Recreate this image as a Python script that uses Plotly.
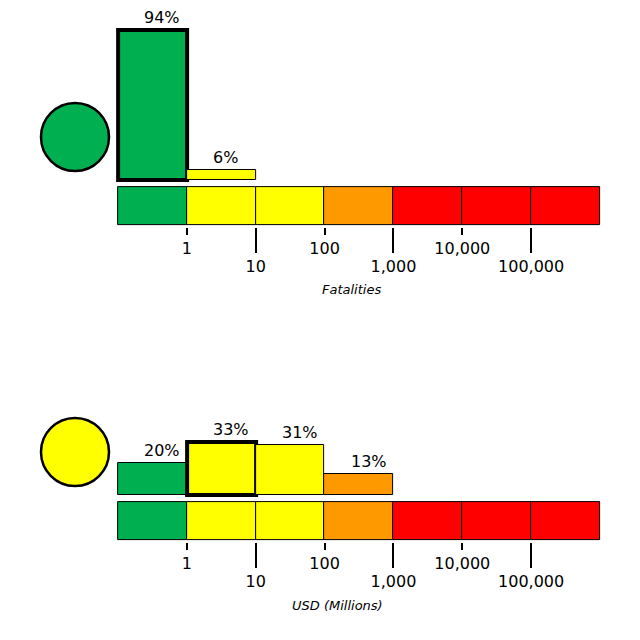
import plotly.graph_objects as go

# 7 bins on a log scale: <1, 1-10, 10-100, 100-1k, 1k-10k, 10k-100k, >100k
bin_colors = ['#00B050', '#FFFF00', '#FFFF00', '#FF9900', '#FF0000', '#FF0000', '#FF0000']
ticks_upper = [1, 3, 5]
ticks_upper_text = ['1', '100', '10,000']
ticks_lower = [2, 4, 6]
ticks_lower_text = ['10', '1,000', '100,000']

fatal_pct = [94, 6, 0, 0, 0, 0, 0]
fatal_pick = 0
fatal_alert = '#00B050'

econ_pct = [20, 33, 31, 13, 0, 0, 0]
econ_pick = 1
econ_alert = '#FFFF00'

OFF = 8  # page body margin
W = H = 640 - OFF
FONT = 'DejaVu Sans'

BIN = (600 - 118) / 7  # px per bin
PCT = 1.6  # px per percent
PADX = 0.1
PADP = 3
PADS = 0.05
STRIP = 38


def px_(v):
    return (v - OFF) / W


def py(v):
    # window pixel row -> paper y
    return 1 - (v - OFF) / H


fig = go.Figure()


def add_panel(pct, pick, alert, title, title_x, top, xa, xb, ya, yb):
    # top = pixel row of histogram baseline
    idx = [i for i, v in enumerate(pct) if v > 0]
    xs = [i + 0.5 for i in idx]
    vs = [pct[i] for i in idx]
    cols = [bin_colors[i] for i in idx]
    lw = [4 if i == pick else 1 for i in idx]
    fig.add_trace(go.Bar(x=xs, y=vs, width=1, marker=dict(color=cols, line=dict(color='black', width=lw)),
                         xaxis=xa, yaxis=ya, showlegend=False, hoverinfo='skip', cliponaxis=False))
    fig.add_trace(go.Bar(x=[i + 0.5 for i in range(7)], y=[1] * 7, width=1,
                         marker=dict(color=bin_colors, line=dict(color='black', width=1)),
                         xaxis=xb, yaxis=yb, showlegend=False, hoverinfo='skip', cliponaxis=False))
    # labels sit left-aligned a bit inside each bin
    for i, v in zip(idx, vs):
        fig.add_annotation(x=i, y=v, xref=xa, yref=ya, text=f'{v}%', showarrow=False,
                           xanchor='left', yanchor='bottom', xshift=24, yshift=1,
                           font=dict(size=16, color='black'))
    fig.add_annotation(x=px_(title_x), y=py(top + 110), xref='paper', yref='paper', text=f'<i>{title}</i>',
                       showarrow=False, xanchor='center', yanchor='middle', font=dict(size=13, color='black'))
    cy = top - 43
    fig.add_shape(type='circle', xref='paper', yref='paper', x0=px_(41), x1=px_(109),
                  y0=py(cy + 34), y1=py(cy - 34), fillcolor=alert, line=dict(color='black', width=2.5))


add_panel(fatal_pct, fatal_pick, fatal_alert, 'Fatalities', 351, 180, 'x', 'x2', 'y', 'y2')
add_panel(econ_pct, econ_pick, econ_alert, 'USD (Millions)', 337, 495, 'x3', 'x4', 'y3', 'y4')

xdom = [px_(118 - PADX * BIN), px_(600 + PADX * BIN)]
base_x = dict(domain=xdom, range=[-PADX, 7 + PADX], showgrid=False, zeroline=False, showline=False,
              ticks='outside', tickwidth=2, tickcolor='black', tickfont=dict(size=16, color='black'),
              ticklabelstandoff=0)
hidden_y = dict(visible=False, fixedrange=True)


def hist_dom(base):
    return [py(base + PADP * PCT), py(base - 100 * PCT)]


def strip_dom(bottom):
    return [py(bottom + PADS * STRIP), py(bottom - STRIP - PADS * STRIP)]


fig.update_layout(
    width=W, height=H, margin=dict(l=0, r=0, t=0, b=0),
    paper_bgcolor='white', plot_bgcolor='rgba(0,0,0,0)',
    font=dict(family=FONT), bargap=0,
    xaxis=dict(base_x, anchor='y2', tickvals=ticks_upper, ticktext=ticks_upper_text, ticklen=7),
    xaxis2=dict(base_x, anchor='y2', overlaying='x', tickvals=ticks_lower, ticktext=ticks_lower_text, ticklen=25),
    xaxis3=dict(base_x, anchor='y4', tickvals=ticks_upper, ticktext=ticks_upper_text, ticklen=7),
    xaxis4=dict(base_x, anchor='y4', overlaying='x3', tickvals=ticks_lower, ticktext=ticks_lower_text, ticklen=25),
    yaxis=dict(hidden_y, domain=hist_dom(180), range=[-PADP, 100]),
    yaxis2=dict(hidden_y, domain=strip_dom(225), range=[-PADS, 1 + PADS]),
    yaxis3=dict(hidden_y, domain=hist_dom(495), range=[-PADP, 100]),
    yaxis4=dict(hidden_y, domain=strip_dom(540), range=[-PADS, 1 + PADS]),
)

fig.write_html('out.html')
